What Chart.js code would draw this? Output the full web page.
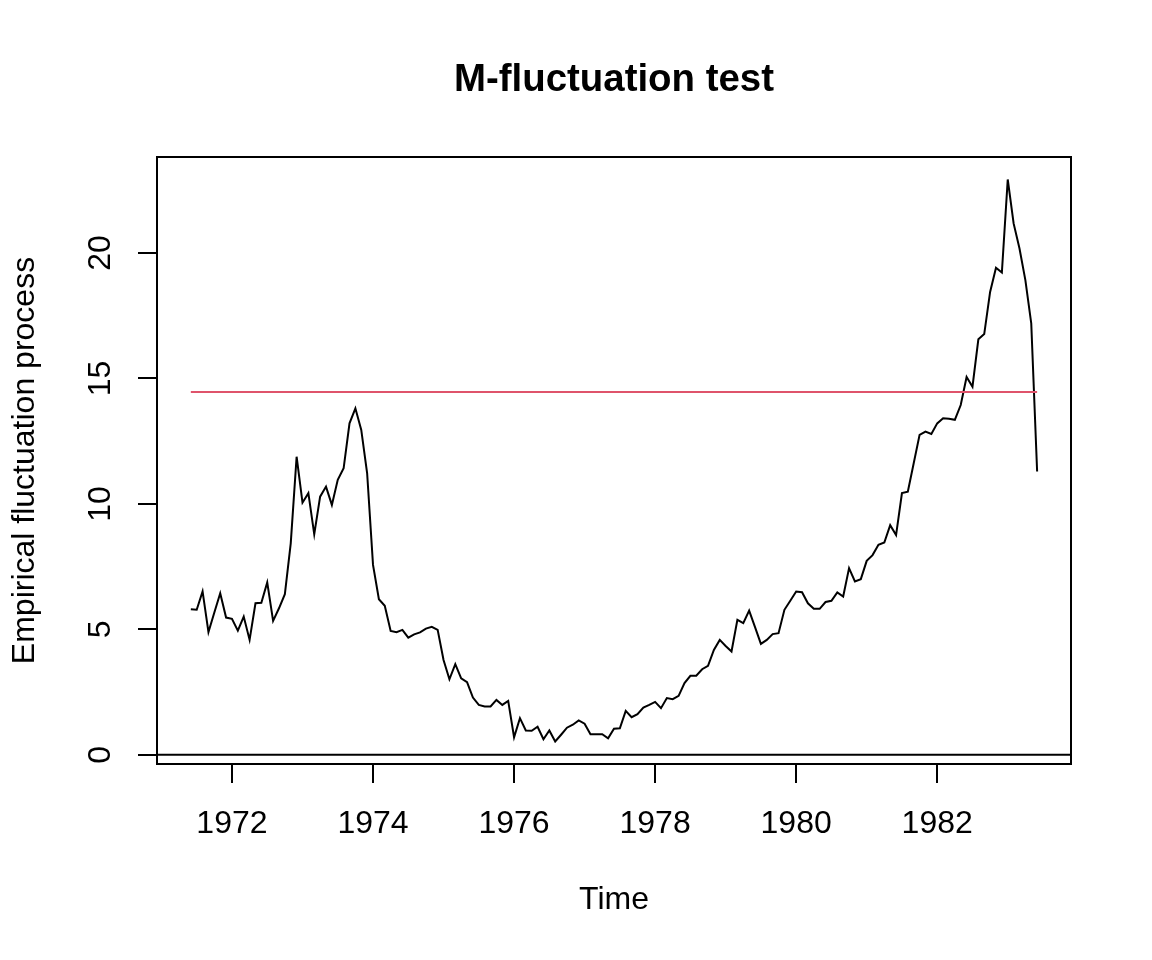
<!DOCTYPE html>
<html>
<head>
    <title>M-fluctuation test</title>
    <script src="https://cdn.jsdelivr.net/npm/chart.js"></script>
    <style>
        body { margin: 0; background: #ffffff; }
    </style>
</head>
<body>
    <canvas id="efpChart" width="1152" height="960"></canvas>

    <script>
        // monthly series, first observation June 1971
        const startYear = 1971;
        const startMonth = 6;

        // empirical fluctuation process
        const fluctuation = [
            5.80, 5.78, 6.51, 4.89, 5.67, 6.44, 5.47, 5.42, 4.95, 5.51, 4.58, 6.04,
            6.06, 6.87, 5.34, 5.84, 6.40, 8.43, 11.88, 10.05, 10.43, 8.79, 10.29, 10.69,
            9.96, 10.96, 11.42, 13.21, 13.81, 12.95, 11.22, 7.57, 6.20, 5.94, 4.94, 4.89,
            4.98, 4.67, 4.80, 4.88, 5.03, 5.10, 4.98, 3.78, 3.01, 3.61, 3.05, 2.90,
            2.28, 1.99, 1.93, 1.93, 2.19, 1.99, 2.15, 0.70, 1.46, 0.97, 0.96, 1.12,
            0.62, 0.97, 0.53, 0.80, 1.08, 1.20, 1.37, 1.24, 0.82, 0.82, 0.82, 0.66,
            1.04, 1.06, 1.75, 1.50, 1.62, 1.88, 1.99, 2.11, 1.86, 2.26, 2.22, 2.35,
            2.86, 3.15, 3.15, 3.41, 3.55, 4.18, 4.58, 4.34, 4.12, 5.38, 5.25, 5.75,
            5.09, 4.42, 4.58, 4.81, 4.85, 5.78, 6.14, 6.51, 6.48, 6.04, 5.82, 5.82,
            6.09, 6.14, 6.47, 6.31, 7.44, 6.91, 7.00, 7.73, 7.96, 8.37, 8.46, 9.15,
            8.76, 10.43, 10.49, 11.62, 12.75, 12.88, 12.79, 13.21, 13.41, 13.39, 13.35, 13.94,
            15.06, 14.67, 16.56, 16.77, 18.45, 19.41, 19.22, 22.93, 21.18, 20.18, 18.92, 17.20,
            11.29
        ];

        // critical boundary
        const boundary = 14.46;

        const xTicks = [1972, 1974, 1976, 1978, 1980, 1982];
        const yTicks = [0, 5, 10, 15, 20];
        const xLimits = [1970.937, 1983.897];
        const yLimits = [-0.366, 23.826];

        const times = fluctuation.map((v, i) => startYear + (startMonth - 1 + i) / 12);
        const processPoints = fluctuation.map((v, i) => ({ x: times[i], y: v }));
        const boundaryPoints = [
            { x: times[0], y: boundary },
            { x: times[times.length - 1], y: boundary }
        ];
        const zeroPoints = [
            { x: xLimits[0], y: 0 },
            { x: xLimits[1], y: 0 }
        ];

        const FONT = '"Liberation Sans", Arial, Helvetica, sans-serif';

        // R style decorations: box, titles, rotated y tick labels
        const rDecorations = {
            id: 'rDecorations',
            afterDraw(chart) {
                const ctx = chart.ctx;
                const area = chart.chartArea;
                const yScale = chart.scales.y;
                ctx.save();
                ctx.strokeStyle = '#000';
                ctx.lineWidth = 2;
                ctx.strokeRect(area.left, area.top, area.right - area.left, area.bottom - area.top);

                ctx.fillStyle = '#000';
                ctx.textAlign = 'center';
                ctx.textBaseline = 'alphabetic';
                const midX = (area.left + area.right) / 2;
                const midY = (area.top + area.bottom) / 2;

                ctx.font = 'bold 38.4px ' + FONT;
                ctx.fillText('M-fluctuation test', midX, 91);

                ctx.font = '32px ' + FONT;
                ctx.fillText('Time', midX, 909);

                ctx.save();
                ctx.translate(33.5, midY);
                ctx.rotate(-Math.PI / 2);
                ctx.fillText('Empirical fluctuation process', 0, 0);
                ctx.restore();

                yTicks.forEach(v => {
                    const py = yScale.getPixelForValue(v);
                    ctx.save();
                    ctx.translate(110, py);
                    ctx.rotate(-Math.PI / 2);
                    ctx.fillText(String(v), 0, 0);
                    ctx.restore();
                });
                ctx.restore();
            }
        };

        const ctx = document.getElementById('efpChart').getContext('2d');
        new Chart(ctx, {
            type: 'line',
            data: {
                datasets: [
                    {
                        label: 'boundary',
                        data: boundaryPoints,
                        borderColor: '#DF536B',
                        borderWidth: 2,
                        pointRadius: 0,
                        order: 0
                    },
                    {
                        label: 'process',
                        data: processPoints,
                        borderColor: '#000000',
                        borderWidth: 2,
                        pointRadius: 0,
                        tension: 0,
                        order: 1
                    },
                    {
                        label: 'zero',
                        data: zeroPoints,
                        borderColor: '#000000',
                        borderWidth: 2,
                        pointRadius: 0,
                        order: 2
                    }
                ]
            },
            options: {
                responsive: false,
                animation: false,
                devicePixelRatio: 1,
                layout: {
                    padding: { left: 0, top: 157, right: 81, bottom: 0 }
                },
                plugins: {
                    legend: { display: false },
                    tooltip: { enabled: false },
                    title: { display: false }
                },
                scales: {
                    x: {
                        type: 'linear',
                        position: 'bottom',
                        min: xLimits[0],
                        max: xLimits[1],
                        afterBuildTicks: scale => {
                            scale.ticks = xTicks.map(v => ({ value: v }));
                        },
                        afterFit: scale => { scale.height = 196; },
                        border: { display: false },
                        grid: {
                            drawOnChartArea: false,
                            drawTicks: true,
                            tickLength: 19,
                            color: '#000',
                            lineWidth: 2
                        },
                        ticks: {
                            color: '#000',
                            font: { family: FONT, size: 32 },
                            padding: 22,
                            maxRotation: 0,
                            minRotation: 0,
                            callback: v => String(v)
                        }
                    },
                    y: {
                        type: 'linear',
                        position: 'left',
                        min: yLimits[0],
                        max: yLimits[1],
                        afterBuildTicks: scale => {
                            scale.ticks = yTicks.map(v => ({ value: v }));
                        },
                        afterFit: scale => { scale.width = 157; },
                        border: { display: false },
                        grid: {
                            drawOnChartArea: false,
                            drawTicks: true,
                            tickLength: 19,
                            color: '#000',
                            lineWidth: 2
                        },
                        ticks: { display: false }
                    }
                }
            },
            plugins: [rDecorations]
        });
    </script>
</body>
</html>
